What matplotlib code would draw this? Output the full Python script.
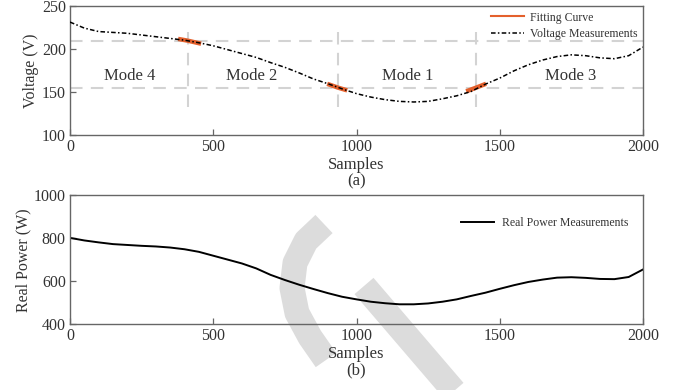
import numpy as np
import matplotlib
matplotlib.use("Agg")
import matplotlib.pyplot as plt
from matplotlib.lines import Line2D

plt.rcParams['font.family'] = ['Liberation Serif', 'DejaVu Serif']

# samples every 50 points
samples = list(range(0, 2001, 50))
voltage = [231, 224, 220, 219, 218, 216, 214, 212, 210, 207,
           203.5, 199, 194.5, 190, 184, 178.5, 172, 165, 159.5, 153.5,
           148, 144, 141, 139, 138.3, 139, 142, 145.5, 150.5, 159,
           166, 174.5, 181.5, 187, 191, 193, 192, 189.5, 188.5, 192, 202]
power = [802, 790, 781, 773, 769, 765, 762, 757, 749, 737,
         719, 701, 683, 660, 630, 606, 584, 564, 545, 528,
         516, 505, 498, 493, 493, 497, 505, 516, 532, 547,
         565, 582, 597, 608, 617, 619, 616, 611, 610, 620, 655]

# fitted segments around the mode boundaries
fit_x = [[385, 410, 450], [905, 935, 960], [1390, 1418, 1445]]
fit_v = [[211, 209.5, 206.5], [158.5, 155, 152.5], [151.5, 155, 158.5]]

mode_names = ['Mode 4', 'Mode 2', 'Mode 1', 'Mode 3']
mode_x = [207, 634, 1180, 1748]
mode_y = 168
h_levels = [209, 155]
v_bounds = [413, 935, 1418]

W, H = 676, 390
fig = plt.figure(figsize=(W / 100, H / 100), dpi=100)
txt = '#333333'
spine = '#666666'
orange = '#e4602c'
grid = '#d3d3d3'

ax1 = fig.add_axes([70 / W, 1 - 135 / H, 573 / W, 129.3 / H])
ax2 = fig.add_axes([70 / W, 1 - 324.3 / H, 573 / W, 129 / H])

for ax in (ax1, ax2):
    ax.set_facecolor('none')
    for s in ax.spines.values():
        s.set_color(spine)
        s.set_linewidth(1.0)
    ax.tick_params(direction='in', length=4, width=0.9, colors=spine,
                   labelcolor=txt, labelsize=11.5, top=False, right=False, pad=3)
    ax.set_xlim(0, 2000)
    ax.set_xticks([0, 500, 1000, 1500, 2000])

# (a) voltage
for y in h_levels:
    ax1.axhline(y, color=grid, lw=1.5, dashes=(6, 4), zorder=1)
for x in v_bounds:
    ax1.plot([x, x], [132, 226], color=grid, lw=1.5, dashes=(6, 4), zorder=1)
for i, (fx, fv) in enumerate(zip(fit_x, fit_v)):
    ax1.plot(fx, fv, color=orange, lw=3.2, zorder=2,
             label='Fitting Curve' if i == 0 else None)
ax1.plot(samples, voltage, color='black', lw=1.1, dashes=(3, 1.5, 1, 1.5),
         zorder=3, label='Voltage Measurements')
for name, mx in zip(mode_names, mode_x):
    ax1.text(mx, mode_y, name, ha='center', va='center', fontsize=12, color=txt)
ax1.set_ylim(100, 250)
ax1.set_yticks([100, 150, 200, 250])
ax1.set_ylabel('Voltage (V)', fontsize=11.5, color=txt, labelpad=2)
ax1.set_xlabel('Samples\n(a)', fontsize=12, color=txt, labelpad=1, linespacing=1.05)
leg1 = ax1.legend(loc='upper right', frameon=False, fontsize=8.5,
                  handlelength=2.8, handletextpad=0.5, labelspacing=0.35,
                  borderaxespad=0.1, bbox_to_anchor=(1.0, 1.0))
leg1.legend_handles[0].set_linewidth(1.5)
for t in leg1.get_texts():
    t.set_color(txt)

# (b) real power
ax2.plot(samples, power, color='black', lw=1.4, label='Real Power Measurements')
ax2.set_ylim(400, 1000)
ax2.set_yticks([400, 600, 800, 1000])
ax2.set_ylabel('Real Power (W)', fontsize=11.5, color=txt, labelpad=2)
ax2.set_xlabel('Samples\n(b)', fontsize=12, color=txt, labelpad=1, linespacing=1.05)
leg2 = ax2.legend(loc='upper right', frameon=False, fontsize=8.5,
                  handlelength=2.8, handletextpad=0.65,
                  borderaxespad=0.1, bbox_to_anchor=(0.985, 0.88))
for t in leg2.get_texts():
    t.set_color(txt)


# watermark shape behind the axes
def px(points):
    return [p[0] / W for p in points], [1 - p[1] / H for p in points]


wm = '#dcdcdc'
arc = [(324, 224), (306, 241), (295, 263), (292, 288), (297, 313), (310, 337), (326, 360)]
diag = [(364, 286), (472, 412)]
for pts in (arc, diag):
    xs, ys = px(pts)
    fig.add_artist(Line2D(xs, ys, color=wm, lw=18, solid_capstyle='butt',
                          transform=fig.transFigure, zorder=-1))

fig.savefig('out.png', dpi=100)
